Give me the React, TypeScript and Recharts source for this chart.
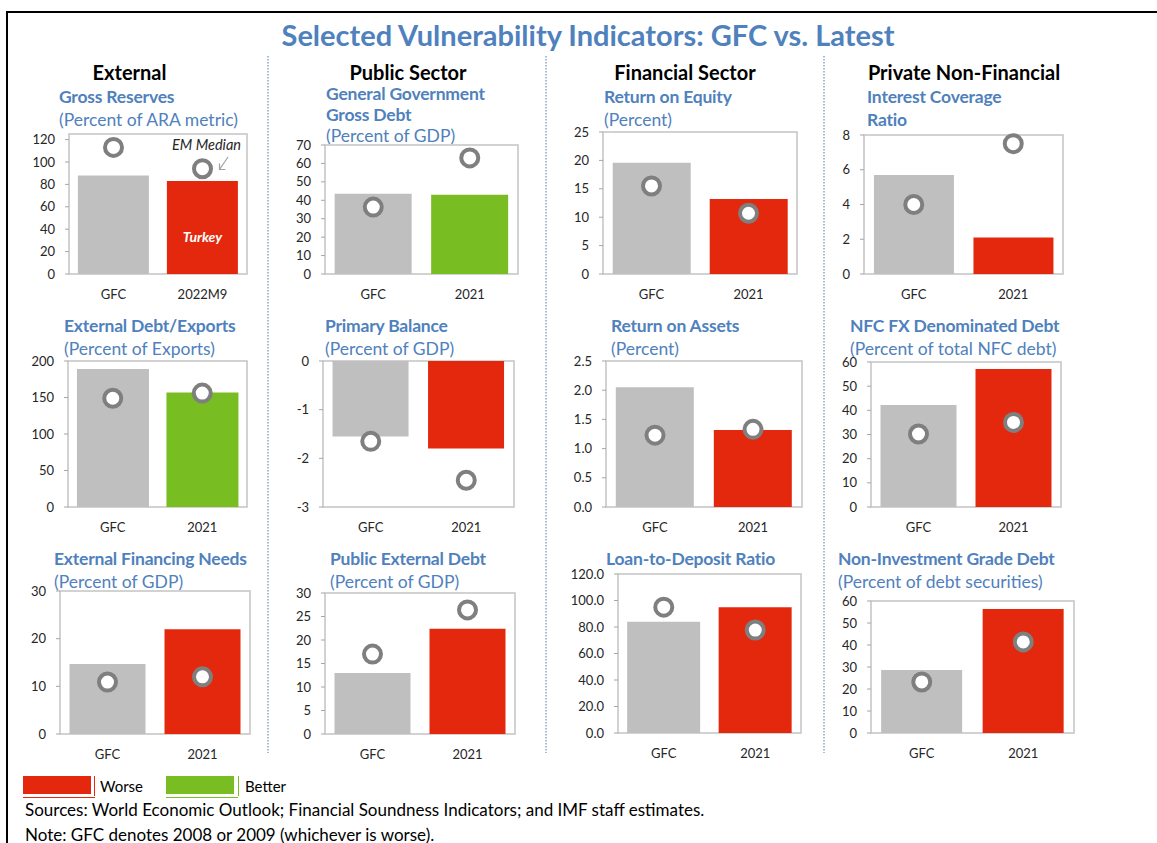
import React from 'react';
import { ComposedChart, Bar, Line, XAxis, YAxis, Cell, ReferenceArea } from 'recharts';

const FONT = 'Lato, "Open Sans", sans-serif';
const BLUE = '#4f81bd';
const GREY_BAR = '#bfbfbf';
const RED = '#e3280e';
const GREEN = '#78bd21';
const RING = '#7f7f7f';
const BOX = '#c3c3c3';

// categories
const catsReserves = ['GFC', '2022M9'];
const catsYear = ['GFC', '2021'];

// bars = Turkey, rings = EM median
const reservesBar = [88, 83];
const reservesRing = [113, 94];
const govDebtBar = [43.5, 43];
const govDebtRing = [36.3, 63];
const roeBar = [19.6, 13.2];
const roeRing = [15.5, 10.7];
const icrBar = [5.7, 2.1];
const icrRing = [4.0, 7.5];
const extDebtBar = [189, 157];
const extDebtRing = [149, 156];
const primaryBar = [-1.55, -1.8];
const primaryRing = [-1.65, -2.45];
const roaBar = [2.05, 1.32];
const roaRing = [1.23, 1.33];
const nfcFxBar = [42.2, 57.1];
const nfcFxRing = [30.2, 35];
const efnBar = [14.7, 22];
const efnRing = [10.9, 12];
const pubExtBar = [13, 22.4];
const pubExtRing = [17, 26.4];
const ltdBar = [84, 95];
const ltdRing = [95, 77.7];
const nigBar = [28.6, 56.4];
const nigRing = [23.2, 41.4];

// y ticks
const ticksReserves = [0, 20, 40, 60, 80, 100, 120];
const ticksGovDebt = [0, 10, 20, 30, 40, 50, 60, 70];
const ticksRoe = [0, 5, 10, 15, 20, 25];
const ticksIcr = [0, 2, 4, 6, 8];
const ticksExtDebt = [0, 50, 100, 150, 200];
const ticksPrimary = [-3, -2, -1, 0];
const ticksRoa = [0, 0.5, 1, 1.5, 2, 2.5];
const ticks60 = [0, 10, 20, 30, 40, 50, 60];
const ticksEfn = [0, 10, 20, 30];
const ticksPubExt = [0, 5, 10, 15, 20, 25, 30];
const ticksLtd = [0, 20, 40, 60, 80, 100, 120];

const sections = [
  { text: 'External', x: 129.5 },
  { text: 'Public Sector', x: 408 },
  { text: 'Financial Sector', x: 685 },
  { text: 'Private Non-Financial', x: 964 },
];

type Spec = {
  cats: string[];
  bars: number[];
  rings: number[];
  worse: boolean;
  domain: [number, number];
  ticks: number[];
  decimals?: number;
  box: [number, number, number, number];
  tx: number;
  lines: [string, boolean, number][];
  turkey?: boolean;
};

const panels: Spec[] = [
  { cats: catsReserves, bars: reservesBar, rings: reservesRing, worse: true, domain: [0, 125], ticks: ticksReserves, box: [69, 134, 247, 274], tx: 59, turkey: true,
    lines: [['Gross Reserves', true, 97], ['(Percent of ARA metric)', false, 120]] },
  { cats: catsYear, bars: govDebtBar, rings: govDebtRing, worse: false, domain: [0, 70], ticks: ticksGovDebt, box: [325, 145, 518, 274], tx: 326,
    lines: [['General Government', true, 94], ['Gross Debt', true, 115], ['(Percent of GDP)', false, 136]] },
  { cats: catsYear, bars: roeBar, rings: roeRing, worse: true, domain: [0, 25], ticks: ticksRoe, box: [603, 132, 797, 274], tx: 604,
    lines: [['Return on Equity', true, 97], ['(Percent)', false, 120]] },
  { cats: catsYear, bars: icrBar, rings: icrRing, worse: true, domain: [0, 8], ticks: ticksIcr, box: [864, 135, 1063, 274], tx: 867,
    lines: [['Interest Coverage', true, 97], ['Ratio', true, 120]] },
  { cats: catsYear, bars: extDebtBar, rings: extDebtRing, worse: false, domain: [0, 200], ticks: ticksExtDebt, box: [68, 361, 247, 507], tx: 64,
    lines: [['External Debt/Exports', true, 326], ['(Percent of Exports)', false, 349]] },
  { cats: catsYear, bars: primaryBar, rings: primaryRing, worse: true, domain: [-3, 0], ticks: ticksPrimary, box: [323, 361, 514, 507], tx: 325,
    lines: [['Primary Balance', true, 326], ['(Percent of GDP)', false, 349]] },
  { cats: catsYear, bars: roaBar, rings: roaRing, worse: true, domain: [0, 2.5], ticks: ticksRoa, decimals: 1, box: [606, 361, 802, 507], tx: 611,
    lines: [['Return on Assets', true, 326], ['(Percent)', false, 349]] },
  { cats: catsYear, bars: nfcFxBar, rings: nfcFxRing, worse: true, domain: [0, 60], ticks: ticks60, box: [871, 362, 1061, 507], tx: 850,
    lines: [['NFC FX Denominated Debt', true, 326], ['(Percent of total NFC debt)', false, 349]] },
  { cats: catsYear, bars: efnBar, rings: efnRing, worse: true, domain: [0, 30], ticks: ticksEfn, box: [60, 591, 250, 734], tx: 54,
    lines: [['External Financing Needs', true, 559], ['(Percent of GDP)', false, 582]] },
  { cats: catsYear, bars: pubExtBar, rings: pubExtRing, worse: true, domain: [0, 30], ticks: ticksPubExt, box: [325, 593, 515, 734], tx: 330,
    lines: [['Public External Debt', true, 559], ['(Percent of GDP)', false, 582]] },
  { cats: catsYear, bars: ltdBar, rings: ltdRing, worse: true, domain: [0, 120], ticks: ticksLtd, decimals: 1, box: [618, 574, 801, 733], tx: 606,
    lines: [['Loan-to-Deposit Ratio', true, 559]] },
  { cats: catsYear, bars: nigBar, rings: nigRing, worse: true, domain: [0, 60], ticks: ticks60, box: [871, 601, 1074, 733], tx: 838,
    lines: [['Non-Investment Grade Debt', true, 559], ['(Percent of debt securities)', false, 582]] },
];

const Y_W = 60;
const M_T = 8;
const M_R = 4;
const X_H = 30;

const Txt = ({ x, y, children, style }: any) => (
  <div style={{ position: 'absolute', left: x, top: y, transform: 'translateY(-50%)', lineHeight: 1, whiteSpace: 'nowrap', fontFamily: FONT, ...style }}>
    {children}
  </div>
);

function Panel({ s }: { s: Spec }) {
  const [l, t, r, b] = s.box;
  const w = r - l;
  const h = b - t;
  const data = s.cats.map((c, i) => ({ cat: c, value: s.bars[i], median: s.rings[i] }));
  const fmt = (v: number) => (s.decimals ? v.toFixed(s.decimals) : String(v));
  const turkeyLabel = (p: any) => {
    if (p.index !== 1) return <g />;
    return (
      <text x={p.x + p.width / 2} y={p.y + p.height * 0.6} fill="#fff" fontFamily={FONT} fontSize={14} fontWeight="bold" fontStyle="italic" textAnchor="middle" dominantBaseline="central">
        Turkey
      </text>
    );
  };
  return (
    <>
      {s.lines.map(([text, bold, y]) => (
        <Txt key={text} x={s.tx} y={y} style={{ color: BLUE, fontSize: 17.5, fontWeight: bold ? 700 : 400, letterSpacing: bold ? -0.2 : 0 }}>{text}</Txt>
      ))}
      <div style={{ position: 'absolute', left: l - Y_W, top: t - M_T }}>
        <ComposedChart width={Y_W + w + M_R} height={M_T + h + X_H} data={data} margin={{ top: M_T, right: M_R, bottom: 0, left: 0 }} barCategoryGap="10%">
          <XAxis dataKey="cat" height={X_H} axisLine={false} tickLine={false} tickSize={0} tickMargin={16} interval={0}
            tick={{ fontSize: 13, fill: '#262626', fontFamily: FONT }} />
          <YAxis width={Y_W} type="number" domain={s.domain} ticks={s.ticks} tickFormatter={fmt} interval={0}
            axisLine={false} tickLine={{ stroke: '#a6a6a6' }} tickSize={4} tickMargin={10}
            tick={{ fontSize: 13, fill: '#262626', fontFamily: FONT }} />
          <Bar dataKey="value" isAnimationActive={false} label={s.turkey ? turkeyLabel : undefined}>
            {data.map((d, i) => (
              <Cell key={d.cat} fill={i === 0 ? GREY_BAR : s.worse ? RED : GREEN} />
            ))}
          </Bar>
          <ReferenceArea x1={s.cats[0]} x2={s.cats[1]} y1={s.domain[0]} y2={s.domain[1]} fill="none" stroke={BOX} strokeWidth={1.5} ifOverflow="visible" />
          <Line dataKey="median" stroke="none" dot={{ r: 8.5, fill: '#fff', stroke: RING, strokeWidth: 4 }} activeDot={false} isAnimationActive={false} />
        </ComposedChart>
      </div>
    </>
  );
}

export default function App() {
  return (
    <div style={{ position: 'absolute', left: 0, top: 0, width: 1157, height: 843, background: '#fff', overflow: 'hidden', fontFamily: FONT }}>
      {/* frame */}
      <div style={{ position: 'absolute', left: 6, top: 11, width: 1151, height: 2, background: '#000' }} />
      <div style={{ position: 'absolute', left: 6, top: 11, width: 2, height: 832, background: '#000' }} />

      <div style={{ position: 'absolute', left: 0, top: 34, width: 1176, transform: 'translateY(-50%)', textAlign: 'center', lineHeight: 1, color: BLUE, fontSize: 29, fontWeight: 700 }}>
        Selected Vulnerability Indicators: GFC vs. Latest
      </div>

      {/* dotted separators */}
      <svg style={{ position: 'absolute', left: 0, top: 0 }} width={1157} height={843}>
        {[268, 546, 824].map((x) => (
          <line key={x} x1={x} x2={x} y1={56} y2={753} stroke="#8ba6c6" strokeWidth={1.5} strokeDasharray="1.5 1.5" />
        ))}
        {/* EM median arrow */}
        <line x1={228} y1={157} x2={219.5} y2={169.5} stroke="#a0a0a0" strokeWidth={1.2} />
        <polyline points="219.5,163.5 219.5,169.5 225.5,169.5" fill="none" stroke="#a0a0a0" strokeWidth={1.2} />
      </svg>

      {sections.map((s) => (
        <Txt key={s.text} x={s.x} y={72} style={{ transform: 'translate(-50%, -50%)', fontSize: 20, fontWeight: 700, color: '#000' }}>{s.text}</Txt>
      ))}

      {panels.map((s, i) => (
        <Panel key={i} s={s} />
      ))}

      <Txt x={172} y={145} style={{ fontSize: 14.5, fontStyle: 'italic', color: '#262626' }}>EM Median</Txt>

      {/* legend */}
      <div style={{ position: 'absolute', left: 23, top: 776, width: 68, height: 18, background: RED }} />
      <div style={{ position: 'absolute', left: 94, top: 776, width: 1, height: 20, background: RED }} />
      <div style={{ position: 'absolute', left: 23, top: 797, width: 72, height: 1, background: RED }} />
      <Txt x={100} y={786} style={{ fontSize: 15, color: '#000' }}>Worse</Txt>
      <div style={{ position: 'absolute', left: 166, top: 776, width: 68, height: 18, background: GREEN }} />
      <div style={{ position: 'absolute', left: 238, top: 776, width: 1, height: 20, background: GREEN }} />
      <div style={{ position: 'absolute', left: 166, top: 797, width: 72, height: 1, background: GREEN }} />
      <Txt x={245} y={786} style={{ fontSize: 15, color: '#000' }}>Better</Txt>

      <Txt x={25} y={809} style={{ fontSize: 17, color: '#000' }}>Sources: World Economic Outlook; Financial Soundness Indicators; and IMF staff estimates.</Txt>
      <Txt x={25} y={834} style={{ fontSize: 17, color: '#000' }}>Note: GFC denotes 2008 or 2009 (whichever is worse).</Txt>
    </div>
  );
}
